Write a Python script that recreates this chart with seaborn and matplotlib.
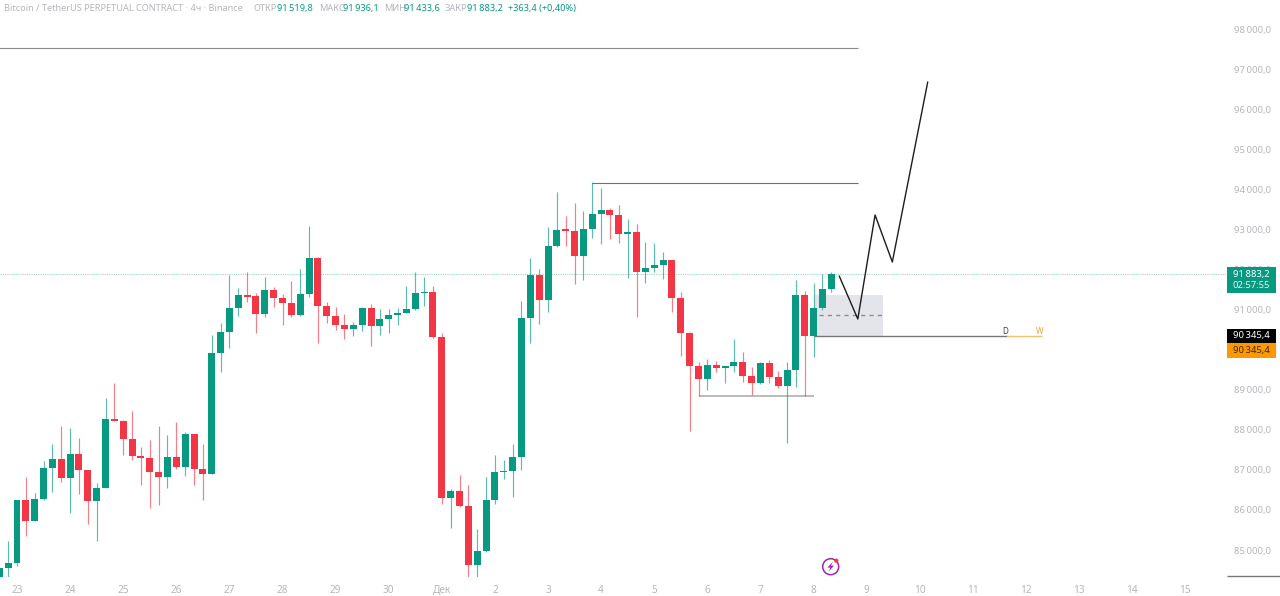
import numpy as np
import pandas as pd
import seaborn as sns
import matplotlib.pyplot as plt
from matplotlib.patches import Rectangle, Circle, Polygon

# 4h candles, first bar is two bars before the "23" tick
opens = [84335, 84552, 84677, 86256, 85717, 86273, 87039, 87271, 86790, 87396, 86997, 86224, 86555, 88262, 88227, 87770,
         87354, 87296, 86940, 86822, 87321, 87072, 87888, 87030, 86905, 89924, 90440, 91039, 91370, 91340, 90897, 91496,
         91288, 91156, 90857, 91388, 92294, 91096, 90832, 90622, 90508, 90622, 91031, 90590, 90757, 90864, 90922, 91006,
         91406, 91431, 90320, 86306, 86481, 86091, 84634, 84976, 86241, 86940, 86975, 87321, 90797, 91862, 91239, 92586,
         92985, 92960, 92329, 93003, 93377, 93492, 93352, 92885, 92935, 91930, 92029, 92112, 92229, 91296, 90415, 89584,
         89275, 89617, 89542, 89584, 89699, 89350, 89175, 89667, 89325, 89093, 89500, 91371, 90340, 91039, 91519.8]
closes = [84545, 84677, 86256, 85717, 86273, 87039, 87271, 86790, 87396, 86997, 86224, 86555, 88262, 88227, 87770, 87354,
          87296, 86940, 86822, 87321, 87072, 87888, 87030, 86905, 89924, 90440, 91039, 91363, 91313, 90897, 91496, 91288,
          91156, 90857, 91388, 92294, 91096, 90832, 90622, 90508, 90622, 91031, 90590, 90757, 90864, 90922, 91006, 91406,
          91431, 90315, 86306, 86481, 86091, 84634, 84976, 86241, 86940, 86975, 87321, 90797, 91862, 91239, 92586, 92978,
          92960, 92329, 93003, 93377, 93492, 93352, 92885, 92935, 91930, 92029, 92112, 92229, 91296, 90415, 89584, 89275,
          89617, 89542, 89584, 89699, 89350, 89175, 89667, 89325, 89093, 89500, 91371, 90340, 91039, 91513, 91883.2]
highs = [84545, 85233, 86256, 86830, 86431, 87222, 87646, 88095, 88045, 87788, 87000, 86680, 88786, 89175, 88240, 88477,
         87579, 87746, 88102, 87870, 88202, 87945, 87900, 87646, 90365, 90657, 91862, 91530, 91937, 91406, 91805, 91555,
         91388, 91713, 92005, 93085, 92310, 91196, 91071, 90882, 90690, 91056, 91139, 91021, 91021, 91031, 91588, 91937,
         91820, 91588, 90408, 86516, 86880, 86623, 85525, 86815, 87371, 87247, 87646, 91214, 92279, 92005, 93067, 93941,
         93334, 93666, 93467, 94175, 94040, 93526, 93609, 93252, 93142, 92678, 92668, 92444, 92240, 91431, 90430, 89699,
         89759, 89717, 89600, 90258, 89934, 89574, 89700, 89742, 89475, 89684, 91738, 91463, 91670, 91880, 91936.1]
lows = [84300, 84335, 84609, 85358, 85717, 86250, 86441, 86705, 85917, 86391, 85650, 85226, 86540, 88210, 87371, 87247,
        86623, 86056, 86124, 86540, 87030, 86847, 86623, 86249, 86890, 89450, 90033, 90839, 91196, 90408, 90822, 91056,
        90607, 90822, 90850, 91306, 90158, 90657, 90490, 90258, 90340, 90473, 90091, 90365, 90423, 90615, 90905, 91000,
        91089, 90300, 86149, 85557, 86080, 84335, 84335, 84960, 86149, 86765, 86316, 86997, 90158, 90640, 90947, 92570,
        92593, 91638, 91738, 92793, 92636, 92753, 92668, 91780, 90807, 91655, 91945, 91755, 90947, 89849, 87970, 88843,
        88993, 89435, 89160, 89450, 89200, 88868, 89143, 89160, 89035, 87678, 89060, 88843, 89809, 90989, 91433.6]

price_ticks = [98000, 97000, 96000, 95000, 94000, 93000, 92000, 91000, 90000, 89000, 88000, 87000, 86000, 85000]
day_labels = ["23", "24", "25", "26", "27", "28", "29", "30", "Дек", "2", "3", "4", "5", "6", "7", "8", "9",
              "10", "11", "12", "13", "14", "15"]

# hand drawn path on the right, bar index / price
path_x = [92.9, 95.0, 96.95, 98.9, 102.9]
path_y = [91837, 90764, 93359, 92187, 96678]

last_price = 91883.2
level_price = 90345.4

GREEN = "#089981"
RED = "#f23645"
GREY = "#b4b6bb"

sns.set_theme(style="white")
plt.rcParams["font.family"] = ["Noto Sans", "DejaVu Sans"]

fig = plt.figure(figsize=(12.8, 5.96), dpi=100)
ax = fig.add_axes([0, 19 / 596, 1226 / 1280, 577 / 596])
ax.set_xlim(-1.921, 136.6)
ax.set_ylim(84327, 98724)
sns.despine(ax=ax, left=True, bottom=True, right=True, top=True)

bars = pd.DataFrame({"open": opens, "high": highs, "low": lows, "close": closes})
bars["i"] = np.arange(-2, len(bars) - 2)
bars["color"] = np.where(bars["close"] >= bars["open"], GREEN, RED)
bars["bottom"] = bars[["open", "close"]].min(axis=1)
bars["height"] = (bars["close"] - bars["open"]).abs()

# levels and zone go under the candles
ax.add_patch(Rectangle((90, 90340), 7.85, 1023, facecolor="#e4e5ea", edgecolor="none", zorder=1))
ax.axhline(last_price, color="#9fd6cb", lw=0.8, ls=(0, (1, 1)), zorder=1)
ax.hlines(97526, -2, 95, color="#8c8c8c", lw=0.8)
ax.hlines(94170, 65, 95, color="#6f6f6f", lw=0.8)
ax.hlines(88843, 77, 90, color="#a8a8a8", lw=1.1, zorder=1.5)
ax.hlines(90864, 90.6, 97.85, color="#8a8a90", lw=1, ls=(0, (3, 3)), zorder=1.5)
ax.hlines(level_price, 90, 111.9, color="#777777", lw=1, zorder=1.5)
ax.hlines(level_price, 111.9, 115.8, color="#f5c26b", lw=1, zorder=1.5)

ax.vlines(bars["i"], bars["low"], bars["high"], colors=bars["color"], lw=0.85, alpha=0.65, zorder=2)
ax.bar(bars["i"], bars["height"].clip(lower=40), bottom=bars["bottom"], width=0.79,
       color=bars["color"], linewidth=0, zorder=3)

sns.lineplot(x=path_x, y=path_y, sort=False, estimator=None, color="#1c1c1c", lw=1.0, ax=ax, zorder=4)

ax.text(111.6, 90465, "D", fontsize=5.8, color="#444444", ha="center", va="center")
ax.text(115.5, 90465, "W", fontsize=5.8, color="#f0a030", ha="center", va="center")

# the 90 000 label sits fully behind the orange tag
tick_text = [f"{p // 1000}\u2009{p % 1000:03d},0" if p != 90000 else "" for p in price_ticks]
ax.yaxis.tick_right()
ax.set_yticks(price_ticks)
ax.set_yticklabels(tick_text, fontsize=6.8, color=GREY)
ax.set_xticks(np.arange(len(day_labels)) * 6)
ax.set_xticklabels(day_labels, fontsize=7.2, color=GREY)
ax.tick_params(axis="x", length=0, pad=5.5)
ax.tick_params(axis="y", length=0, pad=6)
ax.grid(False)

# overlay in pixels for header, price tags and the icon
top = fig.add_axes([0, 0, 1, 1], facecolor="none")
top.set_xlim(0, 1280)
top.set_ylim(596, 0)
top.axis("off")

head = [(4, "Bitcoin / TetherUS PERPETUAL CONTRACT · 4ч · Binance", GREY),
        (253, "ОТКР", GREY), (277, "91\u2009519,8", GREEN),
        (319, "МАКС", GREY), (343, "91\u2009936,1", GREEN),
        (384, "МИН", GREY), (404.5, "91\u2009433,6", GREEN),
        (445, "ЗАКР", GREY), (467, "91\u2009883,2", GREEN),
        (508, "+363,4 (+0,40%)", GREEN)]
for x, s, c in head:
    top.text(x, 8.5, s, fontsize=6.6, color=c, va="center", ha="left")

tag = dict(fontsize=6.8, ha="center", va="center")
top.add_patch(Rectangle((1227, 267), 49, 26, facecolor=GREEN, edgecolor="none"))
top.text(1251.5, 274, "91\u2009883,2", color="white", weight="bold", **tag)
top.text(1251.5, 285.5, "02:57:55", color="#e4f5f1", **tag)
top.add_patch(Rectangle((1227, 329), 49, 14, facecolor="black", edgecolor="none"))
top.text(1251.5, 335.5, "90\u2009345,4", color="white", weight="bold", **tag)
top.add_patch(Rectangle((1227, 343), 49, 14.5, facecolor="#ff9800", edgecolor="none"))
top.text(1251.5, 350, "90\u2009345,4", color="#3a2a10", **tag)
top.hlines(576.3, 1227, 1280, color="#777777", lw=1)

top.add_patch(Circle((830.7, 566.7), 8, facecolor="white", edgecolor="#9c27b0", lw=1.1))
top.add_patch(Polygon([(832.8, 561.8), (827.4, 567.6), (830.4, 567.6), (828.8, 571.6), (834, 565.6), (831, 565.6)],
                      closed=True, facecolor="#9c27b0", edgecolor="none"))
top.add_patch(Circle((836.3, 560.7), 2.1, facecolor=RED, edgecolor="none"))

fig.savefig("out.png", dpi=100)
